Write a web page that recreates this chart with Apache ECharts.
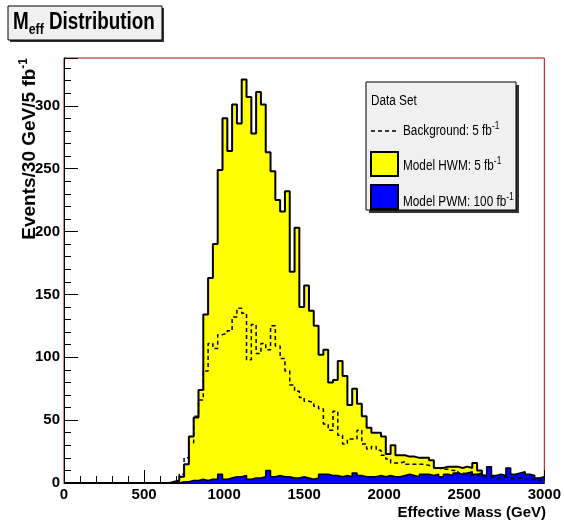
<!DOCTYPE html>
<html>
<head>
<meta charset="utf-8">
<script src="https://cdn.jsdelivr.net/npm/echarts@6/dist/echarts.min.js"></script>
<style>
  html, body { margin: 0; padding: 0; background: #ffffff; }
  #chart { width: 564px; height: 523px; }
</style>
</head>
<body>
<div id="chart"></div>
<script>
// ---- Data (30 GeV bins, left edges 0 .. 2970) ----
const binWidth = 30;
const binEdges = Array.from({length: 100}, (_, i) => i * 30);

// Model HWM: 5 fb^-1 (yellow)
const hwm = [
  0,0,0,0,0,0,0,0,0,0,
  0,0,0,0,0,0,0,0,0,0,
  0,0,1,2,5,15,37,52,74,134,
  163,190,249,290,264,301,286,321,307,278,
  311,301,263,248,225,216,232,168,203,140,
  157,137,125,102,106,80,82,97,85,62,
  75,63,53,44,40,40,37,23,30,22,
  22,21,21,20,20,20,18,12,12,13,
  13,13,12,13,12,16,10,6,5,5,
  4,5,4,3,4,3,3,2,3,2
];

// Background: 5 fb^-1 (dashed)
const background = [
  0,0,0,0,0,0,0,0,0,0,
  0,0,0,0,0,0,0,0,0,0,
  0,0,0,1,7,20,32,53,66,89,
  111,107,118,119,121,132,139,135,98,126,
  103,111,106,125,109,99,89,78,73,68,
  65,64,61,59,47,42,57,38,31,35,
  35,42,31,27,29,26,22,19,16,16,
  17,15,15,15,15,14,14,12,11,11,
  10,10,8,7,6,6,6,5,5,4,
  4,5,4,3,4,3,3,3,2,3
];

// Model PWM: 100 fb^-1 (blue)
const pwm = [
  0,0,0,0,0,0,0,0,0,0,
  0,0,0,0,0,0,0,0,0,0,
  0,0,0,0,1,1,2,2,3,2,
  3,3,7,3,4,5,5,6,3,4,
  4,5,10,5,6,5,5,4,4,5,
  4,3,4,7,7,6,6,5,6,5,
  8,6,5,5,5,6,5,6,5,5,
  6,7,6,5,7,7,6,7,5,7,
  6,8,7,8,9,7,8,6,13,6,
  7,6,12,7,8,9,7,6,4,5
];

const xTicks = [0, 500, 1000, 1500, 2000, 2500, 3000];
const yTicks = [0, 50, 100, 150, 200, 250, 300];

// ---- Helpers ----
function histPoints(values) {
  const pts = values.map((v, i) => [binEdges[i], v]);
  pts.push([binEdges[binEdges.length - 1] + binWidth, values[values.length - 1]]);
  return pts;
}

const FONT = '"Liberation Sans", Arial, Helvetica, sans-serif';
const YMAX = 338;

const chart = echarts.init(document.getElementById('chart'), null, {renderer: 'canvas'});

function legendText(x, y, main) {
  return {
    type: 'text', x: x, y: y, z: 12, scaleX: 0.84,
    style: {
      text: '{m|' + main + '}{p|-1}', align: 'left', verticalAlign: 'middle',
      rich: {
        m: {fontFamily: FONT, fontSize: 14, lineHeight: 20, fill: '#000', verticalAlign: 'middle'},
        p: {fontFamily: FONT, fontSize: 10, lineHeight: 10, fill: '#000', verticalAlign: 'top'}
      }
    }
  };
}

const option = {
  animation: false,
  backgroundColor: '#ffffff',
  grid: {
    left: 64, top: 58, width: 482, height: 425,
    show: true, borderColor: '#c00000', borderWidth: 1, backgroundColor: '#ffffff',
    containLabel: false
  },
  xAxis: {
    type: 'value', min: 0, max: 3000, interval: 500,
    axisLine: {show: true, onZero: false, lineStyle: {color: '#000', width: 1}},
    axisTick: {show: true, inside: true, length: 13, lineStyle: {color: '#000', width: 1}},
    minorTick: {show: true, splitNumber: 5, length: 7, lineStyle: {color: '#000', width: 1}},
    splitLine: {show: false},
    axisLabel: {
      margin: 4, color: '#000', fontFamily: FONT, fontWeight: 'bold', fontSize: 15,
      formatter: v => (xTicks.indexOf(v) >= 0 ? String(v) : '')
    }
  },
  yAxis: [
    {
      type: 'value', min: 0, max: YMAX, interval: 50,
      axisLine: {show: true, onZero: false, lineStyle: {color: '#000', width: 1}},
      axisTick: {show: true, inside: true, length: 14, lineStyle: {color: '#000', width: 1}},
      splitLine: {show: false},
      axisLabel: {
        margin: 4, color: '#000', fontFamily: FONT, fontWeight: 'bold', fontSize: 15,
        formatter: v => (yTicks.indexOf(v) >= 0 ? String(v) : '')
      }
    },
    {
      type: 'value', min: 0, max: YMAX, interval: 10, position: 'left',
      axisLine: {show: false},
      axisTick: {show: true, inside: true, length: 7, lineStyle: {color: '#000', width: 1}},
      splitLine: {show: false},
      axisLabel: {show: false}
    }
  ],
  series: [
    {
      name: 'Model HWM: 5 fb-1', type: 'line', step: 'end', symbol: 'none',
      data: histPoints(hwm),
      lineStyle: {color: '#000', width: 2},
      areaStyle: {color: '#ffff00', opacity: 1},
      z: 2
    },
    {
      name: 'Model PWM: 100 fb-1', type: 'line', step: 'end', symbol: 'none',
      data: histPoints(pwm),
      lineStyle: {color: '#000', width: 1.5},
      areaStyle: {color: '#0000ff', opacity: 1},
      z: 3
    },
    {
      name: 'Background: 5 fb-1', type: 'line', step: 'end', symbol: 'none',
      data: histPoints(background),
      lineStyle: {color: '#000', width: 1.5, type: [4, 3]},
      z: 4
    }
  ],
  graphic: [
    // Title box
    {type: 'rect', shape: {x: 10, y: 8, width: 154, height: 34}, style: {fill: '#333'}, z: 10},
    {type: 'rect', shape: {x: 8, y: 6, width: 154, height: 34}, style: {fill: '#f0f0f0', stroke: '#000', lineWidth: 1}, z: 11},
    {
      type: 'text', x: 13, y: 23, z: 12, scaleX: 0.82,
      style: {
        text: '{m|M}{s|eff}{m| Distribution}',
        verticalAlign: 'middle', align: 'left',
        rich: {
          m: {fontFamily: FONT, fontWeight: 'bold', fontSize: 23, lineHeight: 28, fill: '#000', verticalAlign: 'middle'},
          s: {fontFamily: FONT, fontWeight: 'bold', fontSize: 15, lineHeight: 15, fill: '#000', verticalAlign: 'bottom'}
        }
      }
    },
    // Y axis title
    {
      type: 'text', x: 30, y: 58, rotation: Math.PI / 2, z: 12,
      style: {
        text: '{m|Events/30 GeV/5 fb}{p|-1}',
        align: 'right', verticalAlign: 'middle',
        rich: {
          m: {fontFamily: FONT, fontWeight: 'bold', fontSize: 19, lineHeight: 24, fill: '#000', verticalAlign: 'middle'},
          p: {fontFamily: FONT, fontWeight: 'bold', fontSize: 12, lineHeight: 12, fill: '#000', verticalAlign: 'top'}
        }
      }
    },
    // X axis title
    {
      type: 'text', x: 546, y: 513, z: 12,
      style: {
        text: 'Effective Mass (GeV)', align: 'right', verticalAlign: 'middle',
        fontFamily: FONT, fontWeight: 'bold', fontSize: 15, fill: '#000'
      }
    },
    // Legend box
    {type: 'rect', shape: {x: 369, y: 85, width: 150, height: 128}, style: {fill: '#333'}, z: 10},
    {type: 'rect', shape: {x: 366, y: 82, width: 150, height: 128}, style: {fill: '#f0f0f0', stroke: '#000', lineWidth: 1}, z: 11},
    {
      type: 'text', x: 371, y: 101, z: 12, scaleX: 0.84,
      style: {text: 'Data Set', align: 'left', verticalAlign: 'middle', fontFamily: FONT, fontSize: 14, fill: '#000'}
    },
    {type: 'line', shape: {x1: 371, y1: 131, x2: 398, y2: 131}, style: {stroke: '#000', lineWidth: 1.5, lineDash: [4, 3]}, z: 12},
    legendText(403, 131, 'Background: 5 fb'),
    {type: 'rect', shape: {x: 371, y: 152, width: 27, height: 24}, style: {fill: '#ffff00', stroke: '#000', lineWidth: 2}, z: 12},
    legendText(403, 166, 'Model HWM: 5 fb'),
    {type: 'rect', shape: {x: 371, y: 185, width: 27, height: 24}, style: {fill: '#0000ff', stroke: '#000', lineWidth: 2}, z: 12},
    legendText(403, 202, 'Model PWM: 100 fb')
  ]
};

chart.setOption(option);
</script>
</body>
</html>
